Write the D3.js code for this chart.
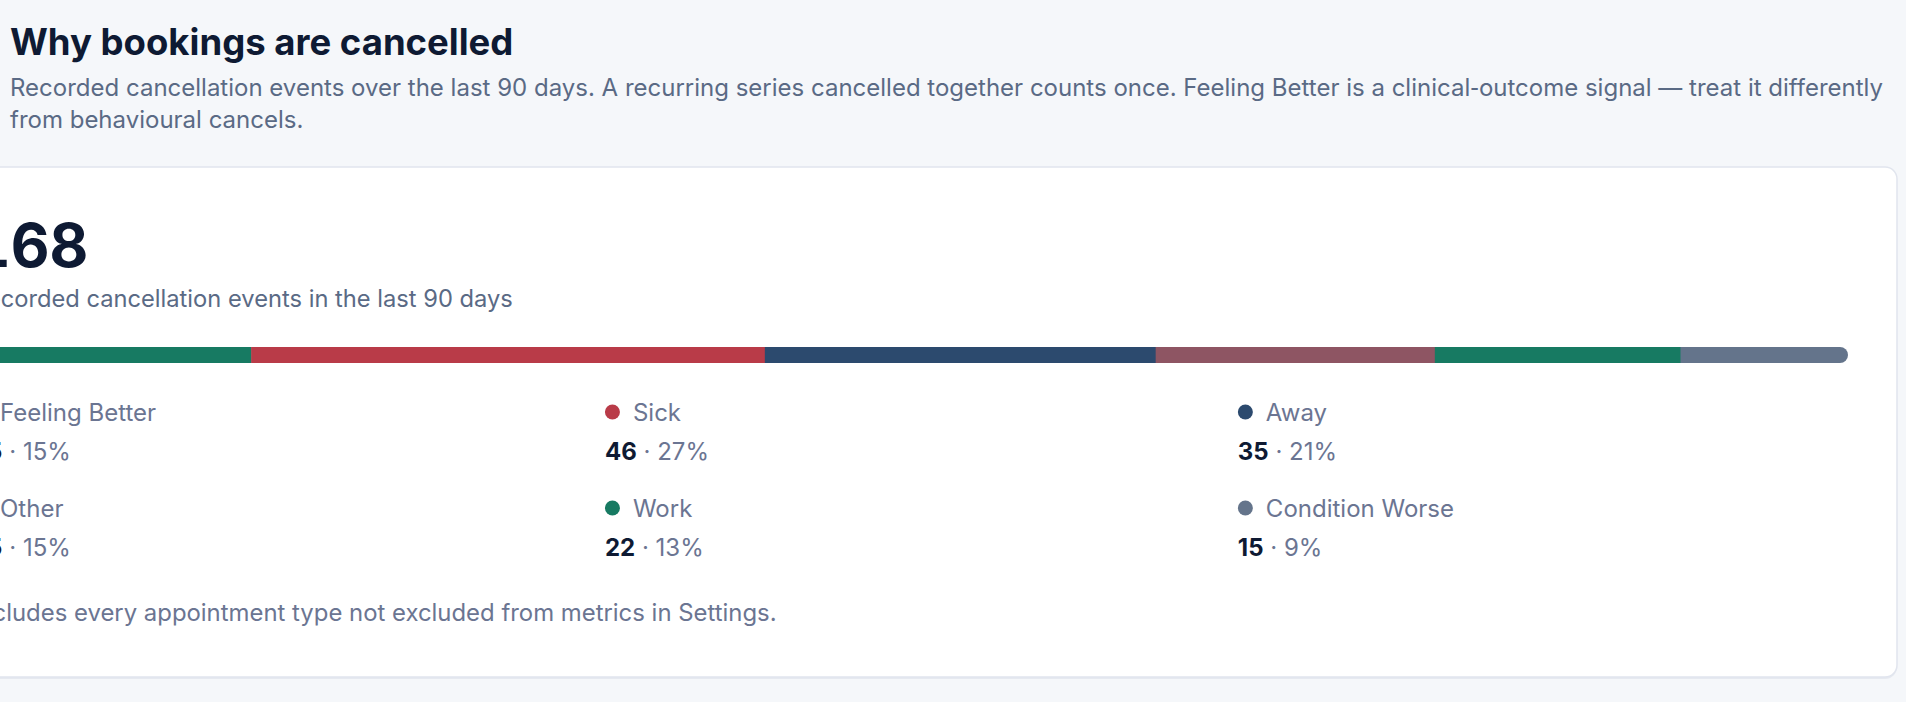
<!DOCTYPE html>
<html>
<head>
<meta charset="utf-8">
<script src="https://cdn.jsdelivr.net/npm/d3@7"></script>
<style>
  html, body { margin: 0; padding: 0; background: #f5f7fa; }
  svg { display: block; font-family: Inter, 'Noto Sans', sans-serif; }
  .title { font-size: 36.5px; font-weight: 700; fill: #0e1a33; }
  .sub { font-size: 24px; fill: #5a6a85; }
  .caption { font-size: 23.7px; fill: #5a6a85; }
  .big { font-size: 60px; font-weight: 700; fill: #0e1a33; font-variant-numeric: tabular-nums; }
  .label { font-size: 24px; fill: #6b7592; }
  .value { font-size: 24px; fill: #6b7592; }
  .value .n { font-weight: 700; fill: #0e1a33; }
  .foot { font-size: 23.9px; fill: #6b7592; }
  .nbh { font-family: 'DejaVu Sans', sans-serif; }
</style>
</head>
<body>
<svg width="1906" height="702"></svg>
<script>
// data
const categories = ['Feeling Better', 'Sick', 'Away', 'Other', 'Work', 'Condition Worse'];
const counts = [25, 46, 35, 25, 22, 15];
const colors = ['#177a62', '#b93b48', '#2c4a6e', '#8e5563', '#177a62', '#64748b'];

const titleText = 'Why bookings are cancelled';
const subLines = [
  ['Recorded cancellation events over the last 90 days. A recurring series cancelled together counts once. Feeling Better is a clinical', '\u2011', 'outcome signal \u2014 treat it differently'],
  ['from behavioural cancels.']
];
const captionText = 'Recorded cancellation events in the last 90 days';
const footText = 'Includes every appointment type not excluded from metrics in Settings.';

const svg = d3.select('svg');
const width = +svg.attr('width');

const total = d3.sum(counts);
const ends = Array.from(d3.cumsum(counts));
const data = categories.map((c, i) => ({
  cat: c,
  count: counts[i],
  start: ends[i] - counts[i],
  end: ends[i],
  pct: Math.round(counts[i] / total * 100)
}));

const color = d3.scaleOrdinal(categories.map((c, i) => i), colors);

// header
svg.append('text').attr('class', 'title').attr('x', 10).attr('y', 55).text(titleText);
const subs = svg.selectAll('text.sub').data(subLines).enter().append('text')
  .attr('class', 'sub')
  .attr('x', 10)
  .attr('y', (d, i) => 96 + i * 32);
subs.selectAll('tspan').data(d => d).enter().append('tspan')
  .attr('class', d => d === '\u2011' ? 'nbh' : null)
  .text(d => d);

// card (scrolled so its left edge is off screen)
const card = {left: -76, top: 167, right: 1897, bottom: 677};
svg.append('rect')
  .attr('x', card.left).attr('y', card.top + 2)
  .attr('width', card.right - card.left).attr('height', card.bottom - card.top)
  .attr('rx', 12).attr('fill', '#e6e9f0');
svg.append('rect')
  .attr('x', card.left).attr('y', card.top)
  .attr('width', card.right - card.left).attr('height', card.bottom - card.top)
  .attr('rx', 12)
  .attr('fill', '#fff')
  .attr('stroke', '#e1e5ee')
  .attr('stroke-width', 1.5);

const left = card.left + 48;
const right = card.right - 49;

const g = svg.append('g');

g.append('text').attr('class', 'big').attr('x', left).attr('y', 267).text(total);
g.append('text').attr('class', 'caption').attr('x', left).attr('y', 307).text(captionText);

// stacked bar
const xScale = d3.scaleLinear().domain([0, total]).range([left, right]);
const barY = 347, barH = 16;

svg.append('defs').append('clipPath').attr('id', 'barclip')
  .append('rect')
  .attr('x', xScale(0)).attr('y', barY)
  .attr('width', xScale(total) - xScale(0)).attr('height', barH)
  .attr('rx', barH / 2);

g.append('g').attr('clip-path', 'url(#barclip)')
  .selectAll('rect').data(data).enter().append('rect')
  .attr('x', d => xScale(d.start))
  .attr('y', barY)
  .attr('width', d => xScale(d.end) - xScale(d.start) + 0.5)
  .attr('height', barH)
  .attr('fill', (d, i) => color(i));

// legend grid
const colScale = d3.scaleBand().domain([0, 1, 2]).range([left, right]).paddingInner(0.036);
const rowScale = d3.scaleBand().domain([0, 1]).range([384, 576]);

const item = g.selectAll('g.item').data(data).enter().append('g')
  .attr('class', 'item')
  .attr('transform', (d, i) => `translate(${colScale(i % 3)},${rowScale(Math.floor(i / 3))})`);

item.append('circle')
  .attr('cx', 7.5).attr('cy', 28).attr('r', 7.5)
  .attr('fill', (d, i) => color(i));

item.append('text').attr('class', 'label')
  .attr('x', 28).attr('y', 37)
  .text(d => d.cat);

const val = item.append('text').attr('class', 'value')
  .attr('x', 0).attr('y', 76);
val.append('tspan').attr('class', 'n').text(d => d.count);
val.append('tspan').text(d => ` \u00b7 ${d.pct}%`);

g.append('text').attr('class', 'foot').attr('x', left).attr('y', 621).text(footText);
</script>
</body>
</html>
